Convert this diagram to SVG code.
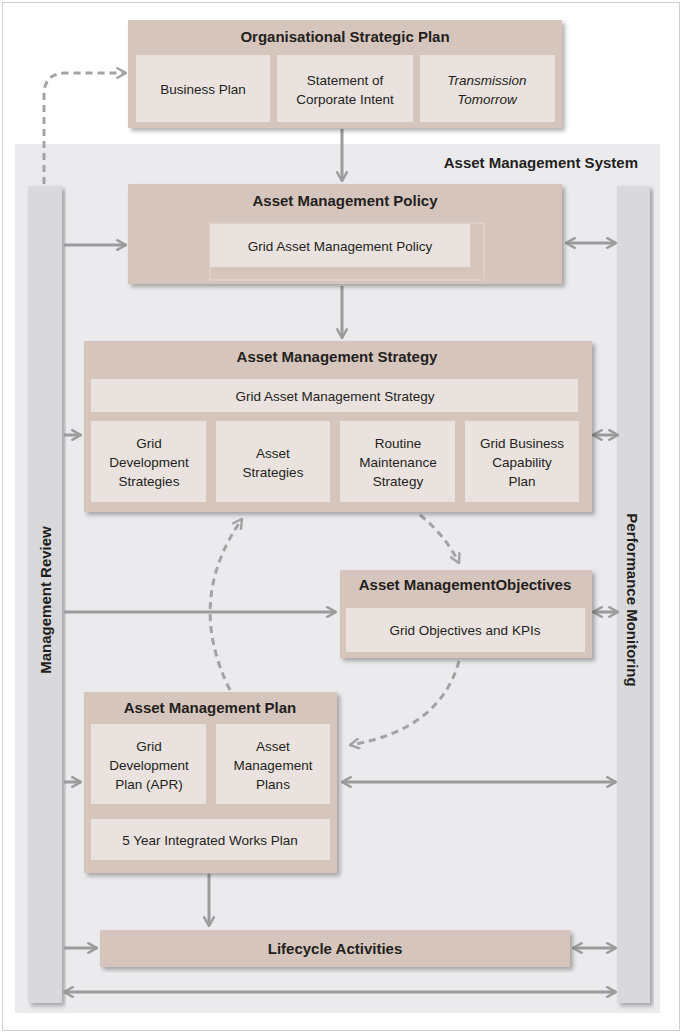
<svg xmlns="http://www.w3.org/2000/svg" width="683" height="1034" viewBox="0 0 683 1034">
<style>
text{font-family:"Liberation Sans",Arial,sans-serif;fill:#231f20;text-anchor:middle}
.t{font-size:15px;font-weight:bold}
.n{font-size:13.5px}
.o{fill:#d6c5bc}
.i{fill:#eae2df}
.bar{fill:#d9d9db}
.c{stroke:#9b9b9b;stroke-width:3;fill:none}
.d{stroke:#a3a3a3;stroke-width:3;fill:none;stroke-dasharray:7 5}
</style>
<defs>
<filter id="sh" x="-5%" y="-5%" width="115%" height="120%"><feDropShadow dx="3" dy="3" stdDeviation="2" flood-color="#000" flood-opacity="0.3"/></filter>
<marker id="a" viewBox="0 0 10 10" refX="9" refY="5" markerWidth="4" markerHeight="4" orient="auto-start-reverse"><path d="M1,0.5 L9,5 L1,9.5" fill="none" stroke="#9b9b9b" stroke-width="2"/></marker>
<marker id="ad" viewBox="0 0 10 10" refX="9" refY="5" markerWidth="4" markerHeight="4" orient="auto"><path d="M1,0.5 L9,5 L1,9.5" fill="none" stroke="#a3a3a3" stroke-width="2"/></marker>
</defs>
<rect x="2.5" y="2.5" width="677" height="1028" fill="#fff" stroke="#d0d0d0"/>
<rect x="15" y="144" width="645" height="869" fill="#ebebed"/>
<text x="638" y="168" class="t" style="text-anchor:end">Asset Management System</text>
<g id="management-review"><rect class="bar" x="28" y="186" width="34" height="817" filter="url(#sh)"/><text class="t" transform="translate(51,600) rotate(-90)">Management Review</text></g>
<g id="performance-monitoring"><rect class="bar" x="617" y="186" width="33" height="817" filter="url(#sh)"/><text class="t" transform="translate(627,600) rotate(90)">Performance Monitoring</text></g>
<g id="connectors">
<path class="d" d="M44,184 V95 Q44,73 66,73 H126" marker-end="url(#ad)"/>
<path class="c" d="M342,129 V181" marker-end="url(#a)"/>
<path class="c" d="M342,286 V338" marker-end="url(#a)"/>
<path class="c" d="M209,874 V926" marker-end="url(#a)"/>
<path class="c" d="M64,245 H126" marker-end="url(#a)"/>
<path class="c" d="M64,435 H81" marker-end="url(#a)"/>
<path class="c" d="M64,612 H336" marker-end="url(#a)"/>
<path class="c" d="M64,782 H81" marker-end="url(#a)"/>
<path class="c" d="M64,948 H97" marker-end="url(#a)"/>
<path class="c" d="M566,243 H616" marker-start="url(#a)" marker-end="url(#a)"/>
<path class="c" d="M593,435 H618" marker-start="url(#a)" marker-end="url(#a)"/>
<path class="c" d="M593,612 H618" marker-start="url(#a)" marker-end="url(#a)"/>
<path class="c" d="M342,782 H616" marker-start="url(#a)" marker-end="url(#a)"/>
<path class="c" d="M573,948 H616" marker-start="url(#a)" marker-end="url(#a)"/>
<path class="c" d="M64,992 H616" marker-start="url(#a)" marker-end="url(#a)"/>
<path class="d" d="M420,515 Q445,535 459,563" marker-end="url(#ad)"/>
<path class="d" d="M459,661 Q440,730 350,745" marker-end="url(#ad)"/>
<path class="d" d="M230,690 Q185,600 242,519" marker-end="url(#ad)"/>
</g>
<g id="org-strategic-plan"><rect class="o" x="128" y="20" width="434" height="108" filter="url(#sh)"/><text class="t" x="345" y="42">Organisational Strategic Plan</text>
<rect class="i" x="136" y="55" width="134" height="67"/><text class="n" x="203" y="94">Business Plan</text>
<rect class="i" x="277" y="55" width="136" height="67"/><text class="n" x="345" y="85">Statement of</text><text class="n" x="345" y="104">Corporate Intent</text>
<rect class="i" x="420" y="55" width="135" height="67"/><text class="n" x="487" y="85" font-style="italic">Transmission</text><text class="n" x="487" y="104" font-style="italic">Tomorrow</text></g>
<g id="am-policy"><rect class="o" x="128" y="184" width="434" height="100" filter="url(#sh)"/><text class="t" x="345" y="206">Asset Management Policy</text>
<rect x="210" y="223" width="274" height="57" fill="none" stroke="#e4d8d2"/>
<rect class="i" x="210" y="224" width="260" height="43"/><text class="n" x="340" y="251">Grid Asset Management Policy</text></g>
<g id="am-strategy"><rect class="o" x="84" y="341" width="508" height="171" filter="url(#sh)"/><text class="t" x="337" y="362">Asset Management Strategy</text>
<rect class="i" x="91" y="379" width="487" height="33"/><text class="n" x="335" y="401">Grid Asset Management Strategy</text>
<rect class="i" x="91" y="421" width="115" height="81"/><text class="n" x="149" y="448">Grid</text><text class="n" x="149" y="467">Development</text><text class="n" x="149" y="486">Strategies</text>
<rect class="i" x="216" y="421" width="114" height="81"/><text class="n" x="273" y="458">Asset</text><text class="n" x="273" y="477">Strategies</text>
<rect class="i" x="340" y="421" width="115" height="81"/><text class="n" x="398" y="448">Routine</text><text class="n" x="398" y="467">Maintenance</text><text class="n" x="398" y="486">Strategy</text>
<rect class="i" x="465" y="421" width="114" height="81"/><text class="n" x="522" y="448">Grid Business</text><text class="n" x="522" y="467">Capability</text><text class="n" x="522" y="486">Plan</text></g>
<g id="am-objectives"><rect class="o" x="340" y="570" width="252" height="88" filter="url(#sh)"/><text class="t" x="465" y="590">Asset ManagementObjectives</text>
<rect class="i" x="346" y="608" width="239" height="44"/><text class="n" x="465" y="635">Grid Objectives and KPIs</text></g>
<g id="am-plan"><rect class="o" x="84" y="692" width="253" height="181" filter="url(#sh)"/><text class="t" x="210" y="713">Asset Management Plan</text>
<rect class="i" x="91" y="724" width="115" height="80"/><text class="n" x="149" y="751">Grid</text><text class="n" x="149" y="770">Development</text><text class="n" x="149" y="789">Plan (APR)</text>
<rect class="i" x="216" y="724" width="114" height="80"/><text class="n" x="273" y="751">Asset</text><text class="n" x="273" y="770">Management</text><text class="n" x="273" y="789">Plans</text>
<rect class="i" x="91" y="819" width="239" height="41"/><text class="n" x="210" y="845">5 Year Integrated Works Plan</text></g>
<g id="lifecycle"><rect class="o" x="100" y="930" width="470" height="37" filter="url(#sh)"/><text class="t" x="335" y="954">Lifecycle Activities</text></g>
</svg>
